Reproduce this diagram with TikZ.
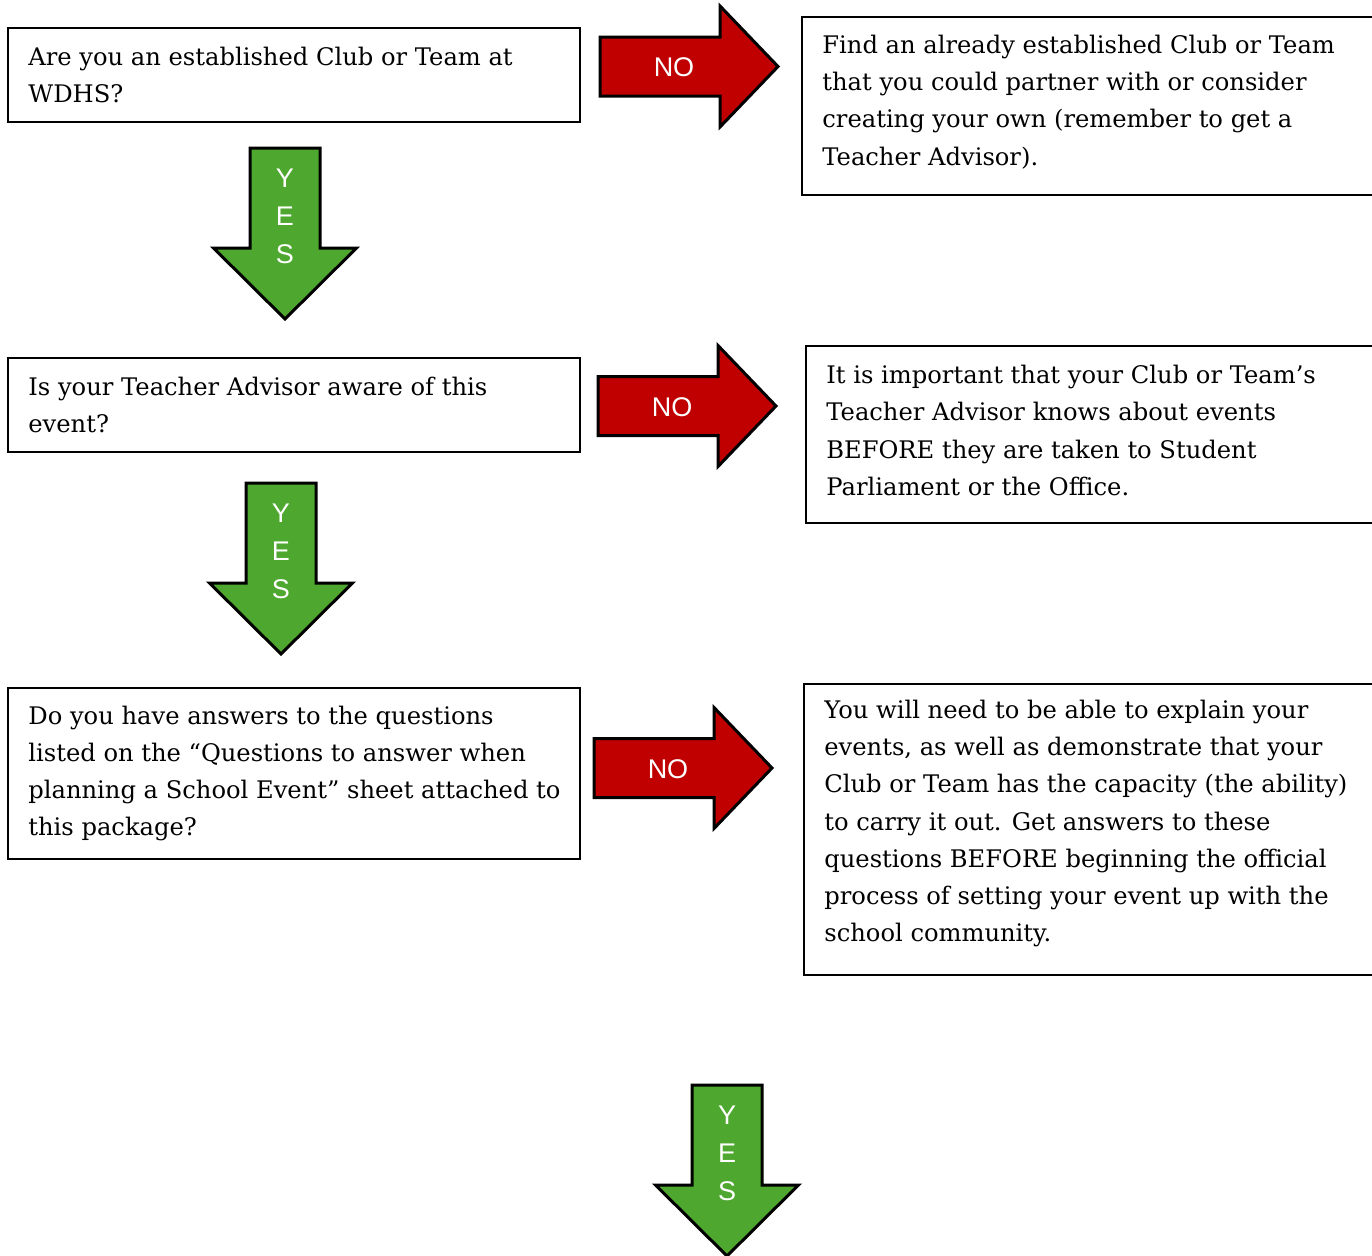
\documentclass[tikz,border=0pt]{standalone}
\usepackage{fontspec}
\setmainfont{DejaVu Serif}
\setsansfont{Liberation Sans}
\usetikzlibrary{positioning, calc}
\definecolor{noRed}{RGB}{192,0,0}
\definecolor{yesGreen}{RGB}{78,167,46}
\tikzset{
    info box/.style={draw, line width=1pt, anchor=north west, inner sep=0pt},
    box text/.style={align=left, inner sep=0pt, font=\fontsize{12.1}{18.6}\selectfont},
    no arrow/.style={draw, line width=1.5pt, fill=noRed, line join=miter},
    yes arrow/.style={draw, line width=1.5pt, fill=yesGreen, line join=miter},
    arrow label/.style={font=\sffamily\fontsize{13.5}{19}\selectfont, text=white, align=center, inner sep=0pt},
}
% red arrow pointing right: name, shaft left x, shaft middle y
\newcommand{\noarrow}[3]{
    \draw[no arrow] (#2,#3) ++(0,-29.5) -- ++(120,0) -- ++(0,-31) -- ++(58,60.5)
        -- ++(-58,60.5) -- ++(0,-31) -- ++(-120,0) -- cycle;
    \node[arrow label] (#1) at ($(#2,#3)+(74,1)$) {NO};
}
% green arrow pointing down: name, shaft middle x, shaft top y
\newcommand{\yesarrow}[3]{
    \draw[yes arrow] (#2,#3) ++(-35,0) -- ++(70,0) -- ++(0,100) -- ++(36.5,0)
        -- ++(-71.5,71) -- ++(-71.5,-71) -- ++(36.5,0) -- cycle;
    \node[arrow label] (#1) at ($(#2,#3)+(0,68)$) {Y\\E\\S};
}

\begin{document}
\begin{tikzpicture}[x=0.5pt, y=-0.5pt]
    \useasboundingbox (0,0) rectangle (1372,1255);
    \clip (0,0) rectangle (1372,1255);

    % questions
    \node[info box, minimum width=286pt, minimum height=47pt] (q1) at (7,27) {};
    \node[box text, right=10.5pt of q1.west] (q1 text)
        {Are you an established Club or Team at\\WDHS?};
    \node[info box, minimum width=286pt, minimum height=47pt] (q2) at (7,357) {};
    \node[box text, right=10.5pt of q2.west] (q2 text)
        {Is your Teacher Advisor aware of this\\event?};
    \node[info box, minimum width=286pt, minimum height=85.5pt] (q3) at (7,687) {};
    \node[box text, right=10.5pt of q3.west] (q3 text)
        {Do you have answers to the questions\\listed on the ``Questions to answer when\\planning a School Event'' sheet attached to\\this package?};

    % answers for NO
    \node[info box, minimum width=289.5pt, minimum height=89pt] (a1) at (801,16) {};
    \node[box text, right=10.5pt of a1.west, yshift=2pt] (a1 text)
        {Find an already established Club or Team\\that you could partner with or consider\\creating your own (remember to get a\\Teacher Advisor).};
    \node[info box, minimum width=287.5pt, minimum height=88.5pt] (a2) at (805,345) {};
    \node[box text, right=10.5pt of a2.west, yshift=2pt] (a2 text)
        {It is important that your Club or Team’s\\Teacher Advisor knows about events\\BEFORE they are taken to Student\\Parliament or the Office.};
    \node[info box, minimum width=288.5pt, minimum height=145.5pt] (a3) at (803,683) {};
    \node[box text, right=10.5pt of a3.west, yshift=3pt] (a3 text)
        {You will need to be able to explain your\\events, as well as demonstrate that your\\Club or Team has the capacity (the ability)\\to carry it out. Get answers to these\\questions BEFORE beginning the official\\process of setting your event up with the\\school community.};

    % arrows
    \noarrow{no1}{600}{66.5}
    \noarrow{no2}{598}{406}
    \noarrow{no3}{594}{768}
    \yesarrow{yes1}{285}{148}
    \yesarrow{yes2}{281}{483}
    \yesarrow{yes3}{727}{1085}
\end{tikzpicture}
\end{document}
